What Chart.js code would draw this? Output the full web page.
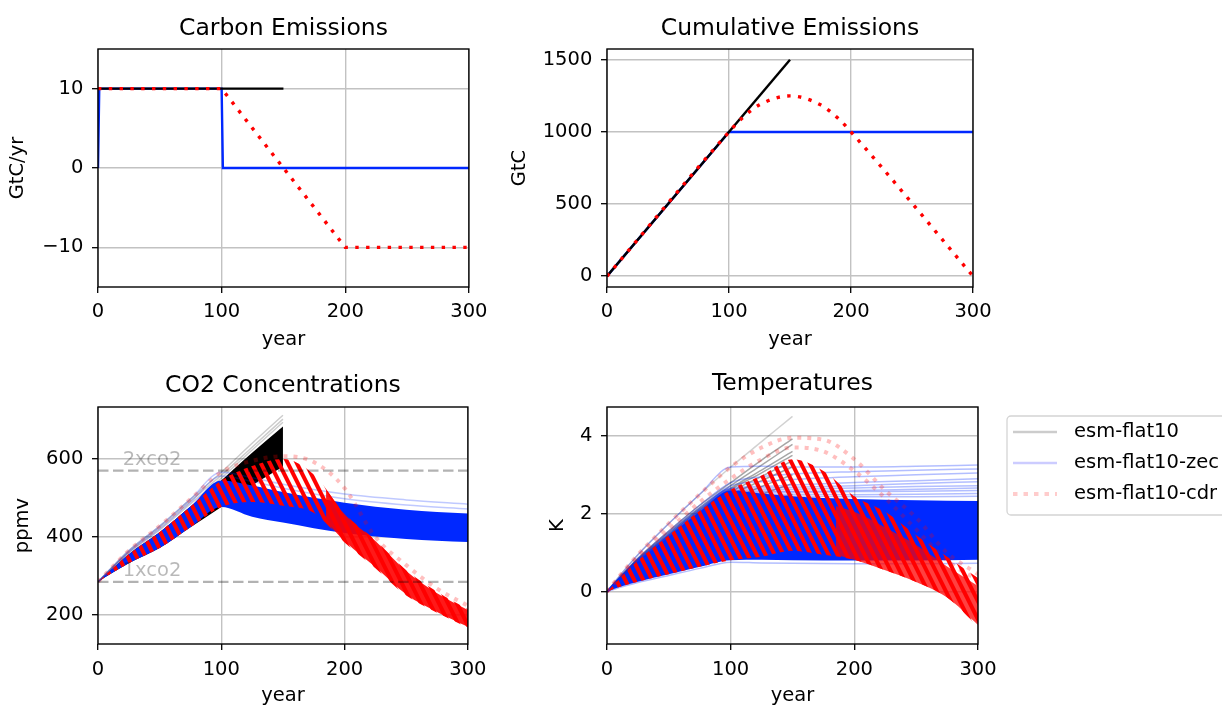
<!DOCTYPE html>
<html>
<head>
<meta charset="utf-8">
<script src="https://cdn.jsdelivr.net/npm/chart.js@4.4.1/dist/chart.umd.min.js"></script>
<style>
  body { margin: 0; background: #fff; width: 1222px; height: 705px; overflow: hidden; position: relative; }
  canvas { position: absolute; }
</style>
</head>
<body>
<canvas id="emisChart" width="495" height="360" style="left:0;top:0"></canvas>
<canvas id="cumChart" width="505" height="360" style="left:495px;top:0"></canvas>
<canvas id="co2Chart" width="495" height="360" style="left:0;top:360px"></canvas>
<canvas id="tempChart" width="727" height="360" style="left:495px;top:360px"></canvas>
<script>
// ---- data ----
const SERIES = ['esm-flat10', 'esm-flat10-zec', 'esm-flat10-cdr'];
const X_TICKS = [0, 100, 200, 300];
const EMIS_TICKS = [-10, 0, 10];
const CUM_TICKS = [0, 500, 1000, 1500];
const CO2_TICKS = [200, 400, 600];
const TEMP_TICKS = [0, 2, 4];

// carbon emissions (GtC/yr)
const EMIS_F10_YEARS = [0, 150];
const EMIS_F10 = [10, 10];
const EMIS_ZEC_YEARS = [0, 1, 100, 101, 300];
const EMIS_ZEC = [0, 10, 10, 0, 0];
const EMIS_CDR_YEARS = [0, 100, 200, 300];
const EMIS_CDR = [10, 10, -10, -10];

// cumulative emissions (GtC)
const CUM_F10_YEARS = [0, 150];
const CUM_F10 = [0, 1500];
const CUM_ZEC_YEARS = [0, 100, 300];
const CUM_ZEC = [0, 1000, 1000];
const CUM_CDR_YEARS = [0, 100, 110, 125, 150, 175, 190, 200, 300];
const CUM_CDR = [0, 1000, 1090, 1188, 1250, 1188, 1090, 1000, 0];

// ensemble years
const YEARS_F10 = [0, 10, 25, 50, 75, 100, 125, 150];
const YEARS_ZEC = [0, 10, 25, 50, 75, 100, 125, 150, 200, 250, 300];
const YEARS_CDR = [0, 10, 25, 50, 75, 100, 125, 150, 175, 200, 225, 250, 275, 300];
const YEARS_TAIL = [185, 200, 225, 250, 275, 300];

// CO2 concentrations (ppmv)
const CO2_LEVELS = [570, 285];
const CO2_LEVEL_LABELS = ['2xco2', '1xco2'];
const CO2_F10_LO = [285, 305, 333, 372, 425, 477, 532, 580];
const CO2_F10_HI = [285, 314, 356, 412, 478, 545, 616, 683];
const CO2_F10_LINES = [
  [285, 318, 365, 428, 497, 566, 640, 712],
  [285, 317, 362, 424, 492, 558, 630, 702],
  [285, 315, 359, 418, 485, 551, 623, 694]
];
const CO2_ZEC_LO = [285, 305, 333, 372, 425, 477, 452, 437, 410, 395, 387];
const CO2_ZEC_HI = [285, 314, 356, 412, 478, 545, 532, 515, 488, 470, 460];
const CO2_ZEC_LINES = [
  [285, 318, 365, 428, 497, 566, 552, 535, 510, 495, 484],
  [285, 316, 361, 421, 489, 556, 542, 525, 498, 482, 472]
];
const CO2_CDR_LO = [285, 305, 333, 372, 425, 477, 490, 480, 462, 386, 320, 250, 206, 168];
const CO2_CDR_HI = [285, 314, 356, 413, 478, 545, 582, 600, 560, 460, 392, 315, 260, 215];
const CO2_CDR_TAIL_LO = [440, 390, 323, 253, 208, 170];
const CO2_CDR_TAIL_HI = [522, 458, 390, 313, 256, 213];
const CO2_CDR_OUTLIER = [285, 318, 365, 428, 497, 566, 595, 607, 592, 525, 400, 328, 268, 224];

// temperatures (K)
const T_F10_LINES = [
  [0, 0.40, 0.95, 1.75, 2.50, 3.20, 3.85, 4.50],
  [0, 0.36, 0.86, 1.56, 2.22, 2.80, 3.38, 3.92],
  [0, 0.35, 0.84, 1.52, 2.16, 2.72, 3.25, 3.78],
  [0, 0.34, 0.82, 1.48, 2.12, 2.66, 3.12, 3.60],
  [0, 0.33, 0.80, 1.45, 2.08, 2.62, 3.05, 3.50],
  [0, 0.32, 0.78, 1.42, 2.04, 2.56, 2.96, 3.36],
  [0, 0.31, 0.75, 1.36, 1.96, 2.48, 2.85, 3.20],
  [0, 0.29, 0.70, 1.28, 1.85, 2.35, 2.70, 3.00],
  [0, 0.27, 0.66, 1.20, 1.72, 2.18, 2.50, 2.78],
  [0, 0.24, 0.58, 1.05, 1.52, 1.95, 2.25, 2.50]
];
const T_ZEC_LO = [0, 0.12, 0.26, 0.45, 0.64, 0.81, 0.82, 0.81, 0.80, 0.80, 0.82];
const T_ZEC_HI = [0, 0.32, 0.78, 1.42, 2.05, 2.60, 2.52, 2.45, 2.38, 2.35, 2.33];
const T_ZEC_LINES = [
  [0, 0.40, 0.95, 1.75, 2.50, 3.20, 3.22, 3.20, 3.20, 3.22, 3.25],
  [0, 0.36, 0.86, 1.56, 2.22, 2.80, 2.95, 3.02, 3.08, 3.12, 3.15],
  [0, 0.35, 0.84, 1.52, 2.16, 2.72, 2.82, 2.88, 2.95, 3.00, 3.05],
  [0, 0.34, 0.82, 1.48, 2.12, 2.66, 2.70, 2.74, 2.80, 2.85, 2.90],
  [0, 0.34, 0.81, 1.47, 2.10, 2.64, 2.66, 2.68, 2.72, 2.78, 2.82],
  [0, 0.33, 0.80, 1.45, 2.08, 2.62, 2.62, 2.63, 2.66, 2.70, 2.72],
  [0, 0.33, 0.79, 1.44, 2.06, 2.60, 2.58, 2.58, 2.60, 2.63, 2.66],
  [0, 0.32, 0.78, 1.42, 2.04, 2.56, 2.55, 2.55, 2.57, 2.58, 2.60],
  [0, 0.32, 0.78, 1.42, 2.04, 2.58, 2.52, 2.50, 2.49, 2.50, 2.52],
  [0, 0.32, 0.78, 1.42, 2.04, 2.58, 2.50, 2.46, 2.44, 2.44, 2.45],
  [0, 0.11, 0.24, 0.42, 0.60, 0.76, 0.74, 0.73, 0.72, 0.72, 0.73]
];
const T_CDR_LO = [0, 0.12, 0.26, 0.45, 0.64, 0.81, 0.90, 1.05, 0.95, 0.82, 0.55, 0.25, -0.15, -0.90];
const T_CDR_HI = [0, 0.33, 0.80, 1.45, 2.08, 2.62, 2.98, 3.40, 3.10, 2.45, 2.05, 1.45, 0.90, 0.35];
const T_CDR_TAIL_LO = [0.95, 0.82, 0.55, 0.25, -0.15, -0.85];
const T_CDR_TAIL_HI = [2.20, 2.05, 1.65, 1.20, 0.65, 0.15];
const T_CDR_OUTLIERS = [
  [0, 0.40, 0.95, 1.75, 2.50, 3.20, 3.70, 3.95, 3.90, 3.40, 2.60, 1.90, 1.00, 0.45],
  [0, 0.36, 0.88, 1.60, 2.30, 2.90, 3.40, 3.70, 3.60, 3.10, 2.40, 1.60, 0.80, 0.30]
];

// ---- styling ----
const FONT = "'DejaVu Sans', sans-serif";
const BLUE = 'rgb(0,40,255)';
const RED = 'rgb(255,0,0)';
Chart.defaults.font.family = FONT;
Chart.defaults.color = '#000';

function pts(years, values) {
  return years.map((x, i) => ({ x: x, y: values[i] }));
}

function line(years, values, color, width, order, extra) {
  return Object.assign({
    data: pts(years, values),
    borderColor: color,
    borderWidth: width,
    pointRadius: 0,
    fill: false,
    tension: 0,
    order: order
  }, extra || {});
}

// two datasets, the second filled down to the first
function band(years, lo, hi, fillColor, order) {
  return [
    line(years, lo, 'rgba(0,0,0,0)', 1, order, { cubicInterpolationMode: 'monotone' }),
    line(years, hi, 'rgba(0,0,0,0)', 1, order, { cubicInterpolationMode: 'monotone', fill: '-1', backgroundColor: fillColor })
  ];
}

// slanted red stripes, like the aligned dots of many dotted lines
function stripePattern() {
  const c = document.createElement('canvas');
  c.width = 9;
  c.height = 18;
  const g = c.getContext('2d');
  g.fillStyle = RED;
  for (let k = -1; k <= 1; k++) {
    const x = k * 9;
    g.beginPath();
    g.moveTo(x, 0);
    g.lineTo(x + 4.5, 0);
    g.lineTo(x + 13.5, 18);
    g.lineTo(x + 9, 18);
    g.closePath();
    g.fill();
  }
  return g.createPattern(c, 'repeat');
}

const frame = {
  id: 'frame',
  afterDraw(chart) {
    const a = chart.chartArea;
    const ctx = chart.ctx;
    ctx.save();
    ctx.strokeStyle = '#000';
    ctx.lineWidth = 1.4;
    ctx.strokeRect(a.left, a.top, a.right - a.left, a.bottom - a.top);
    ctx.restore();
  }
};

const levelText = {
  id: 'levelText',
  afterDatasetsDraw(chart) {
    const ctx = chart.ctx;
    ctx.save();
    ctx.fillStyle = 'rgba(0,0,0,0.28)';
    ctx.font = '19.5px ' + FONT;
    ctx.textBaseline = 'alphabetic';
    CO2_LEVELS.forEach((v, i) => {
      ctx.fillText(CO2_LEVEL_LABELS[i], chart.scales.x.getPixelForValue(20), chart.scales.y.getPixelForValue(v) - 6);
    });
    ctx.restore();
  }
};

const legendBox = {
  id: 'legendBox',
  afterDraw(chart) {
    const ctx = chart.ctx;
    const x0 = chart.chartArea.right + 29;
    const y0 = chart.chartArea.top + 9;
    const styles = [
      { color: 'rgba(0,0,0,0.2)', width: 2.5, dash: [] },
      { color: 'rgba(0,0,255,0.2)', width: 2.5, dash: [] },
      { color: 'rgba(255,0,0,0.2)', width: 4, dash: [4.5, 6] }
    ];
    ctx.save();
    ctx.fillStyle = 'rgba(255,255,255,0.8)';
    ctx.strokeStyle = '#d4d4d4';
    ctx.lineWidth = 1.3;
    ctx.beginPath();
    ctx.roundRect(x0, y0, 300, 99, 4);
    ctx.fill();
    ctx.stroke();
    ctx.font = '19.5px ' + FONT;
    ctx.textBaseline = 'middle';
    SERIES.forEach((name, i) => {
      const y = y0 + 16 + i * 31;
      ctx.strokeStyle = styles[i].color;
      ctx.lineWidth = styles[i].width;
      ctx.setLineDash(styles[i].dash);
      ctx.beginPath();
      ctx.moveTo(x0 + 6, y);
      ctx.lineTo(x0 + 50, y);
      ctx.stroke();
      ctx.setLineDash([]);
      ctx.fillStyle = '#000';
      ctx.fillText(name, x0 + 67, y);
    });
    ctx.restore();
  }
};

function fmt(v) {
  return v < 0 ? '\u2212' + Math.abs(v) : String(v);
}

function panelOptions(p) {
  const tickFont = { family: FONT, size: 19.5 };
  return {
    responsive: false,
    animation: false,
    events: [],
    layout: { padding: { left: 0, right: p.padRight, top: 0, bottom: 0 } },
    plugins: {
      legend: { display: false },
      tooltip: { enabled: false },
      title: {
        display: true,
        text: p.title,
        fullSize: false,
        color: '#000',
        font: { family: FONT, size: 23.5, weight: 'normal' },
        padding: { top: p.titleTop, bottom: p.titleBottom }
      }
    },
    scales: {
      x: {
        type: 'linear',
        min: 0,
        max: 300,
        afterBuildTicks: axis => { axis.ticks = X_TICKS.map(v => ({ value: v })); },
        afterFit: scale => { scale.height = p.xHeight; },
        grid: { color: '#c2c2c2', lineWidth: 1.4, tickColor: '#000', tickLength: 6, tickWidth: 1.3 },
        border: { display: false },
        ticks: { font: tickFont, padding: p.xPad, maxRotation: 0, callback: fmt },
        title: { display: true, text: 'year', font: tickFont, padding: { top: 0, bottom: p.xTitlePad } }
      },
      y: {
        type: 'linear',
        min: p.yMin,
        max: p.yMax,
        afterBuildTicks: axis => { axis.ticks = p.yTicks.map(v => ({ value: v })); },
        afterFit: scale => { scale.width = p.yWidth; },
        grid: { color: '#c2c2c2', lineWidth: 1.4, tickColor: '#000', tickLength: 6, tickWidth: 1.3 },
        border: { display: false },
        ticks: { font: tickFont, padding: 8.7, callback: fmt },
        title: { display: true, text: p.yLabel, font: tickFont, padding: { top: p.yTitlePad, bottom: 0 } }
      }
    }
  };
}

window.addEventListener('load', function () {
  const stripes = stripePattern();
  const dotted = { borderDash: [3.4, 7.4] };

  // Carbon Emissions
  new Chart(document.getElementById('emisChart'), {
    type: 'line',
    data: {
      datasets: [
        line(EMIS_ZEC_YEARS, EMIS_ZEC, BLUE, 2.4, 3),
        line(EMIS_F10_YEARS, EMIS_F10, '#000', 2.4, 2),
        line(EMIS_CDR_YEARS, EMIS_CDR, RED, 3.4, 1, dotted)
      ]
    },
    options: panelOptions({
      title: 'Carbon Emissions', titleTop: 15, titleBottom: 5.8, padRight: 26,
      xHeight: 73, xPad: 7.5, xTitlePad: 8, yWidth: 98, yTitlePad: 6.6,
      yMin: -15, yMax: 15, yTicks: EMIS_TICKS, yLabel: 'GtC/yr'
    }),
    plugins: [frame]
  });

  // Cumulative Emissions
  new Chart(document.getElementById('cumChart'), {
    type: 'line',
    data: {
      datasets: [
        line(CUM_ZEC_YEARS, CUM_ZEC, BLUE, 2.4, 3),
        line(CUM_F10_YEARS, CUM_F10, '#000', 2.4, 2),
        line(CUM_CDR_YEARS, CUM_CDR, RED, 3.4, 1, Object.assign({ cubicInterpolationMode: 'monotone' }, dotted))
      ]
    },
    options: panelOptions({
      title: 'Cumulative Emissions', titleTop: 15, titleBottom: 5.8, padRight: 27,
      xHeight: 73, xPad: 7.5, xTitlePad: 8, yWidth: 112, yTitlePad: 13.3,
      yMin: -75, yMax: 1575, yTicks: CUM_TICKS, yLabel: 'GtC'
    }),
    plugins: [frame]
  });

  // CO2 Concentrations
  const smooth = { cubicInterpolationMode: 'monotone' };
  const co2Sets = [].concat(
    band(YEARS_F10, CO2_F10_LO, CO2_F10_HI, '#000', 8),
    CO2_F10_LINES.map(v => line(YEARS_F10, v, 'rgba(0,0,0,0.2)', 1.5, 7, smooth)),
    band(YEARS_ZEC, CO2_ZEC_LO, CO2_ZEC_HI, BLUE, 6),
    CO2_ZEC_LINES.map(v => line(YEARS_ZEC, v, 'rgba(0,40,255,0.25)', 1.5, 5, smooth)),
    band(YEARS_CDR, CO2_CDR_LO, CO2_CDR_HI, stripes, 4),
    band(YEARS_TAIL, CO2_CDR_TAIL_LO, CO2_CDR_TAIL_HI, 'rgba(255,0,0,0.9)', 3),
    [line(YEARS_CDR, CO2_CDR_OUTLIER, 'rgba(255,0,0,0.25)', 4, 2, { cubicInterpolationMode: 'monotone', borderDash: [4, 6] })],
    CO2_LEVELS.map(v => line([0, 300], [v, v], 'rgba(0,0,0,0.3)', 2.4, 1, { borderDash: [10.5, 4.5] }))
  );
  new Chart(document.getElementById('co2Chart'), {
    type: 'line',
    data: { datasets: co2Sets },
    options: panelOptions({
      title: 'CO2 Concentrations', titleTop: 11.4, titleBottom: 7.4, padRight: 26,
      xHeight: 76, xPad: 8.5, xTitlePad: 12.5, yWidth: 98, yTitlePad: 11.6,
      yMin: 126, yMax: 733, yTicks: CO2_TICKS, yLabel: 'ppmv'
    }),
    plugins: [frame, levelText]
  });

  // Temperatures
  const tempSets = [].concat(
    T_F10_LINES.map((v, i) => line(YEARS_F10, v, i === 0 ? 'rgba(0,0,0,0.18)' : 'rgba(0,0,0,0.35)', 1.5, 7, smooth)),
    band(YEARS_ZEC, T_ZEC_LO, T_ZEC_HI, BLUE, 6),
    T_ZEC_LINES.map(v => line(YEARS_ZEC, v, 'rgba(0,40,255,0.3)', 1.5, 5, smooth)),
    band(YEARS_CDR, T_CDR_LO, T_CDR_HI, stripes, 4),
    band(YEARS_TAIL, T_CDR_TAIL_LO, T_CDR_TAIL_HI, 'rgba(255,0,0,0.75)', 3),
    T_CDR_OUTLIERS.map(v => line(YEARS_CDR, v, 'rgba(255,0,0,0.25)', 4, 2, { cubicInterpolationMode: 'monotone', borderDash: [4, 6] }))
  );
  new Chart(document.getElementById('tempChart'), {
    type: 'line',
    data: { datasets: tempSets },
    options: panelOptions({
      title: 'Temperatures', titleTop: 10, titleBottom: 8.8, padRight: 244,
      xHeight: 76, xPad: 8.5, xTitlePad: 12.5, yWidth: 112, yTitlePad: 51.6,
      yMin: -1.34, yMax: 4.74, yTicks: TEMP_TICKS, yLabel: 'K'
    }),
    plugins: [frame, legendBox]
  });
});
</script>
</body>
</html>
